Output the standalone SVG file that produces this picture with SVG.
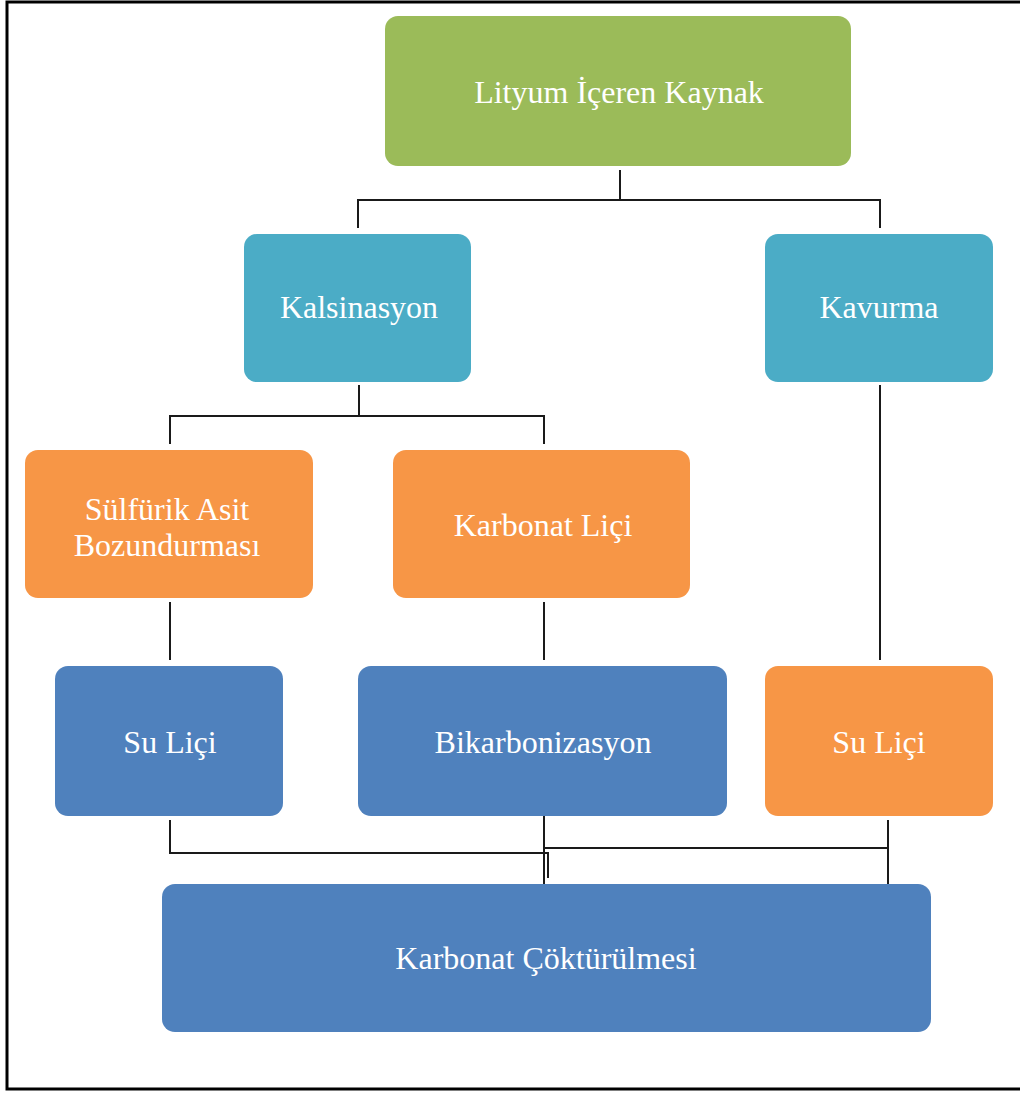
<svg xmlns="http://www.w3.org/2000/svg" width="1020" height="1093" viewBox="0 0 1020 1093">
<style>
.n{stroke:none}
.g{fill:#9BBB59}.t{fill:#4BACC6}.o{fill:#F79646}.b{fill:#4F81BD}
.lbl{font-family:"Liberation Serif","Times New Roman",serif;font-size:32px;fill:#FFFFFF;text-anchor:middle}
.c{fill:none;stroke:#1a1a1a;stroke-width:2}
</style>
<rect width="1020" height="1093" fill="#FFFFFF"/>
<path d="M1022,2 H7 V1089 H1022" fill="none" stroke="#000" stroke-width="3"/>
<g id="connectors">
<path class="c" d="M620,170 V200 M358,228 V200 H880 V228"/>
<path class="c" d="M359,385 V416 M170,444 V416 H544 V444"/>
<path class="c" d="M880,385 V660"/>
<path class="c" d="M170,602 V660"/>
<path class="c" d="M544,602 V660"/>
<path class="c" d="M170,820 V853 H548 V878"/>
<path class="c" d="M544,816 V884"/>
<path class="c" d="M544,848 H888"/>
<path class="c" d="M888,820 V890"/>
</g>
<g id="n1"><rect class="n g" x="385" y="16" width="466" height="150" rx="13"/><text class="lbl" x="619" y="103">Lityum İçeren Kaynak</text></g>
<g id="n2"><rect class="n t" x="244" y="234" width="227" height="148" rx="13"/><text class="lbl" x="359" y="318">Kalsinasyon</text></g>
<g id="n3"><rect class="n t" x="765" y="234" width="228" height="148" rx="13"/><text class="lbl" x="879" y="318">Kavurma</text></g>
<g id="n4"><rect class="n o" x="25" y="450" width="288" height="148" rx="13"/><text class="lbl" x="167" y="520">Sülfürik Asit</text><text class="lbl" x="167" y="556">Bozundurması</text></g>
<g id="n5"><rect class="n o" x="393" y="450" width="297" height="148" rx="13"/><text class="lbl" x="543" y="536">Karbonat Liçi</text></g>
<g id="n6"><rect class="n b" x="55" y="666" width="228" height="150" rx="13"/><text class="lbl" x="170" y="753">Su Liçi</text></g>
<g id="n7"><rect class="n b" x="358" y="666" width="369" height="150" rx="13"/><text class="lbl" x="543" y="753">Bikarbonizasyon</text></g>
<g id="n8"><rect class="n o" x="765" y="666" width="228" height="150" rx="13"/><text class="lbl" x="879" y="753">Su Liçi</text></g>
<g id="n9"><rect class="n b" x="162" y="884" width="769" height="148" rx="13"/><text class="lbl" x="546" y="969">Karbonat Çöktürülmesi</text></g>
</svg>
